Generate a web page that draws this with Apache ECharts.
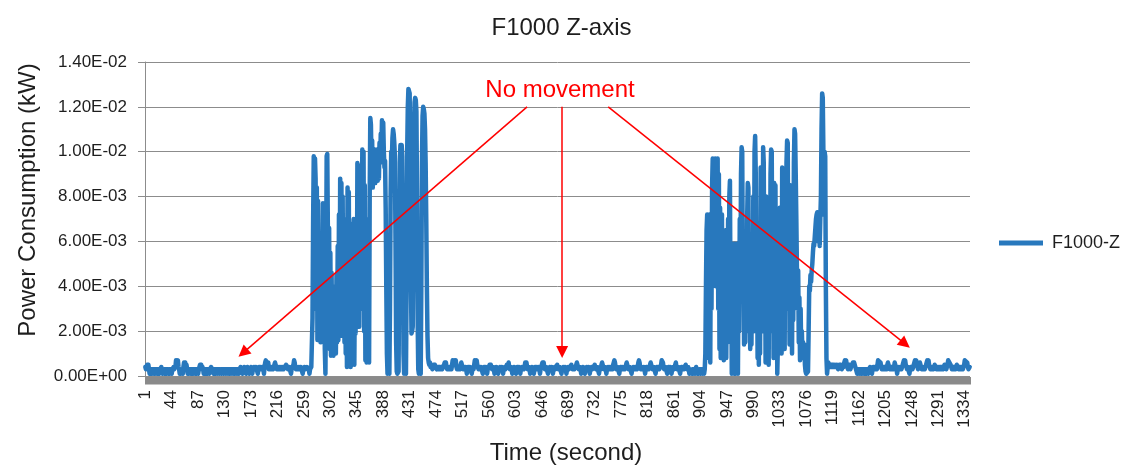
<!DOCTYPE html>
<html>
<head>
<meta charset="utf-8">
<script src="https://cdn.jsdelivr.net/npm/echarts@6/dist/echarts.min.js"></script>
<style>
html,body{margin:0;padding:0;background:#fff;}
#chart{width:1123px;height:466px;}
</style>
</head>
<body>
<div id="chart"></div>
<script>
// Power consumption readings, in units of 1e-4 kW, one value per second.
// Seconds 1-271: no movement
const quietStart = [
4,3,4,5,4,5,3,1,3,1, 3,1,3,3,1,3,1,3,3,1, 3,1,3,1,3,3,4,3,1,3, 3,1,3,1,3,1,3,3,1,3,
1,3,3,1,3,3,4,3,3,4, 7,7,6,7,4,3,1,3,1,3, 3,1,4,6,5,6,4,5,3,1, 3,1,3,3,1,3,1,3,1,3,
3,1,3,1,3,3,1,3,4,5, 4,5,3,4,3,1,3,1,3,1, 3,1,3,3,1,3,3,4,4,3, 3,1,3,1,3,1,1,3,1,1,
3,1,1,3,1,1,3,1,1,3, 1,1,3,1,1,3,1,3,1,1, 3,1,1,3,1,3,1,3,3,1, 3,3,1,3,3,4,3,3,1,3,
3,4,3,3,1,3,4,3,3,1, 3,3,4,3,1,3,3,4,3,3, 4,3,3,1,3,4,3,3,4,3, 3,4,3,1,4,6,7,5,6,4,
6,3,4,3,3,4,3,4,3,4, 5,6,5,4,3,4,3,3,4,3, 3,4,3,3,4,3,3,4,4,5, 5,4,3,3,4,3,3,1,3,4,
4,5,7,6,4,3,3,4,3,3, 4,3,3,4,3,3,1,3,3,4, 3,3,3,4,4,4,3,1,3,3, 4
];
// Seconds 272-468: first movement burst
const burstA = [
4,26,70,98,96,97,88,30,84,16, 78,40,20,62,15,48,16,35,77,24, 60,12,1,40,98,99,64,20,66,12,
55,9,46,10,40,9,30,14,38,10, 45,15,58,16,72,20,88,30,86,18, 80,25,70,15,55,10,70,4,84,40,
82,12,60,4,50,8,68,20,70,5, 45,19,60,25,95,40,94,22,80,30, 88,35,101,45,100,20,85,7,70,6,
60,7,50,6,80,115,112,95,105,84, 100,92,101,86,98,90,101,87,96,88, 104,95,108,100,
114,110,113,100,93,96,75,40,10,1, 1,2,1,30,80,100,95,106,110,108, 104,98,60,15,2,1,1,2,50,95,
103,101,103,98,70,10,1,1,2,1, 40,100,120,128,127,126,95,45,19,20, 22,60,110,122,124,123,118,80,25,3,
1,1,2,1,40,95,116,120,119,117, 110,95,70,40,18,8,6,5,6,4, 5,4,3
];
// Seconds 469-911: no movement
const quietMid = [
4,5,4,5,4,4,3,4,3,4, 3,4,3,3,4,3,4,4,5,6, 5,6,4,3,4,3,3,4,3,4, 3,5,7,7,6,7,5,7,4,3,
3,4,3,4,3,5,6,5,4,3, 4,3,3,4,3,1,3,4,3,3, 4,3,3,1,3,4,3,5,7,7, 6,7,5,4,3,4,3,3,4,3,
3,1,3,4,3,3,4,3,1,3, 3,4,5,4,5,4,3,3,4,3, 1,3,3,4,3,3,1,3,3,4, 3,3,4,3,1,3,3,4,3,4,
5,4,5,6,4,3,3,4,3,1, 3,3,4,3,3,1,3,4,3,3, 4,3,1,3,3,4,3,4,3,4, 6,5,6,4,3,3,4,3,1,3,
3,4,3,3,1,3,4,3,3,4, 3,3,4,3,1,3,4,5,6,5, 6,4,3,3,4,3,3,1,3,3, 4,3,3,4,3,1,3,3,4,3,
4,4,5,4,3,3,4,3,3,1, 3,3,4,3,3,4,3,1,3,3, 4,3,3,4,4,5,4,3,3,4, 3,3,4,5,6,5,4,3,3,4,
3,1,3,3,4,3,3,1,3,3, 4,3,3,4,3,1,3,3,4,3, 3,4,4,5,4,3,3,4,3,3, 1,3,4,3,5,6,5,4,3,3,
4,3,1,3,3,4,3,3,4,3, 3,4,3,5,6,7,6,4,3,3, 4,3,3,1,3,4,3,3,4,3, 3,4,3,4,5,6,5,4,3,3,
4,3,3,1,3,3,4,3,3,4, 3,4,3,4,6,7,6,4,3,3, 4,3,3,4,3,1,3,4,3,3, 4,3,4,5,6,5,4,3,3,4,
3,3,1,3,4,3,3,4,3,3, 4,5,7,7,6,4,3,3,4,3, 3,1,3,4,3,3,4,3,1,3, 3,4,3,4,5,6,4,3,3,4,
3,3,1,3,4,3,3,4,3,3, 4,5,4,3,3,4,3,1,3,3, 3,1,3,1,3,3,1,3,4,3, 1,3,1,1,3,1,1,3,1,1,
3,1,3
];
// Seconds 912-1112: second movement burst
const burstB = [
10,40,65,72,15,70,8,72,6,70, 30,85,97,70,96,55,97,40,96,65, 97,30,90,12,75,8,65,72,10,60,
7,55,12,65,8,50,15,70,20,80, 87,25,59,1,59,2,58,1,59,1, 58,2,59,1,50,20,70,35,90,102,
100,40,59,14,45,15,55,20,70,86, 84,25,56,12,50,14,56,30,80,20, 100,107,90,30,59,8,58,5,59,10,
93,40,85,20,102,95,35,70,6,80, 78,15,65,5,75,20,90,101,100,30, 70,8,86,60,85,20,60,1,0.5,1,
40,75,15,65,10,93,92,25,70,12, 80,30,95,105,104,40,75,14,85,20, 70,10,60,25,95,110,108,90,70,47,
30,47,15,35,7,30,10,20,8,15, 10,14,5,2,1,0.5,1,2,20,40, 38,45,42,47,50,55,59,58,62,66,
70,72,73,70,60,72,58,70,80,110, 126,124,100,72,100,98,40,8,1,4, 6
];
// Seconds 1113-1342: no movement
const quietEnd = [
6,5,4,5,4,5,4,5,4,4, 5,4,4,5,4,3,4,5,4,5, 4,3,4,5,4,6,7,6,7,5, 4,3,4,5,4,3,4,4,5,6,
5,6,5,4,3,3,1,3,3,1, 3,3,1,3,1,3,3,1,3,1, 3,1,3,3,1,3,3,4,3,3, 1,3,4,3,3,4,3,4,3,5,
7,7,7,7,6,4,3,4,3,4, 3,4,3,4,3,5,6,5,4,3, 4,3,4,3,4,3,4,6,5,4, 3,1,3,3,4,3,3,4,3,4,
5,6,7,6,7,5,4,3,4,3, 3,1,3,4,3,4,3,4,5,6, 7,6,7,5,4,3,4,5,6,5, 4,3,3,4,3,4,3,4,5,6,
7,6,7,5,4,3,4,3,3,4, 3,4,5,5,4,3,4,3,3,4, 3,4,3,4,3,4,3,4,5,5, 4,3,4,5,7,7,7,7,5,4,
3,4,3,4,3,4,3,4,5,5, 4,3,3,4,3,4,3,4,3,4, 5,7,7,7,7,6,4,3,3,4
];

const powerE4 = [].concat(quietStart, burstA, quietMid, burstB, quietEnd);
const powerKW = powerE4.map(v => v * 1e-4);           // unit conversion to kW
const seconds = powerKW.map((_, i) => String(i + 1));   // category labels 1..N

const yTicks = { min: 0, max: 0.014, step: 0.002 };
const labelEvery = 43;

function sci(v) {
  const s = Number(v).toExponential(2).toUpperCase();
  const parts = s.split('E');
  let exp = parts[1];
  const sign = exp[0] === '-' ? '-' : '+';
  exp = exp.replace('+', '').replace('-', '');
  if (exp.length < 2) exp = '0' + exp;
  return parts[0] + 'E' + sign + exp;
}

const FONT = '"Liberation Sans", Arial, sans-serif';
const chart = echarts.init(document.getElementById('chart'), null, { renderer: 'canvas' });

chart.setOption({
  animation: false,
  backgroundColor: '#ffffff',
  title: {
    text: 'F1000 Z-axis',
    left: 'center',
    top: 11,
    textStyle: { fontFamily: FONT, fontSize: 24, fontWeight: 'normal', color: '#1e1e1e' }
  },
  legend: {
    data: ['F1000-Z'],
    left: 999,
    top: 234,
    padding: 0,
    icon: 'rect',
    itemWidth: 44,
    itemHeight: 5,
    itemGap: 0,
    textStyle: { fontFamily: FONT, fontSize: 18, color: '#1e1e1e', padding: [0, 0, 0, 4] }
  },
  grid: { left: 145, right: 153, top: 62, bottom: 90, containLabel: false },
  xAxis: {
    type: 'category',
    data: seconds,
    boundaryGap: true,
    axisLine: { show: false },
    axisTick: { show: false },
    axisLabel: {
      interval: labelEvery - 1,
      rotate: 90,
      margin: 14,
      fontFamily: FONT,
      fontSize: 17,
      color: '#1e1e1e'
    },
    splitLine: { show: false }
  },
  yAxis: {
    type: 'value',
    min: yTicks.min,
    max: yTicks.max,
    interval: yTicks.step,
    axisLine: { show: true, lineStyle: { color: '#8c8c8c', width: 1 } },
    axisTick: { show: true, length: 7, lineStyle: { color: '#8c8c8c' } },
    axisLabel: {
      formatter: sci,
      margin: 18,
      fontFamily: FONT,
      fontSize: 17,
      color: '#1e1e1e'
    },
    splitLine: { show: true, lineStyle: { color: '#8c8c8c', width: 1 } }
  },
  graphic: [
    {
      type: 'rect',
      z: 0,
      silent: true,
      shape: { x: 145, y: 377, width: 826, height: 7.5 },
      style: { fill: '#8a8a8a' }
    },
    {
      type: 'text',
      x: 566, y: 453,
      style: {
        text: 'Time (second)',
        font: '24px ' + FONT,
        fill: '#1e1e1e',
        align: 'center',
        verticalAlign: 'middle'
      }
    },
    {
      type: 'text',
      x: 28, y: 200,
      rotation: Math.PI / 2,
      style: {
        text: 'Power Consumption (kW)',
        font: '24px ' + FONT,
        fill: '#1e1e1e',
        align: 'center',
        verticalAlign: 'middle'
      }
    },
    {
      type: 'text',
      x: 560, y: 90,
      z: 100,
      style: {
        text: 'No movement',
        font: '24px ' + FONT,
        fill: '#ff0000',
        align: 'center',
        verticalAlign: 'middle'
      }
    }
  ],
  series: [{
    name: 'F1000-Z',
    type: 'line',
    data: powerKW,
    symbol: 'none',
    showSymbol: false,
    sampling: null,
    clip: false,
    lineStyle: { color: '#2878bd', width: 4.5, join: 'round', cap: 'round' },
    itemStyle: { color: '#2878bd' },
    markLine: {
      silent: true,
      symbol: ['none', 'triangle'],
      symbolSize: 12,
      label: { show: false },
      lineStyle: { color: '#ff0000', width: 1.5, type: 'solid' },
      itemStyle: { color: '#ff0000' },
      emphasis: { disabled: true },
      data: [
        [{ coord: [621, 0.012] }, { coord: [159, 0.00103] }],
        [{ coord: [678, 0.012] }, { coord: [678, 0.00107] }],
        [{ coord: [753, 0.012] }, { coord: [1236, 0.00143] }]
      ]
    }
  }]
});
</script>
</body>
</html>
